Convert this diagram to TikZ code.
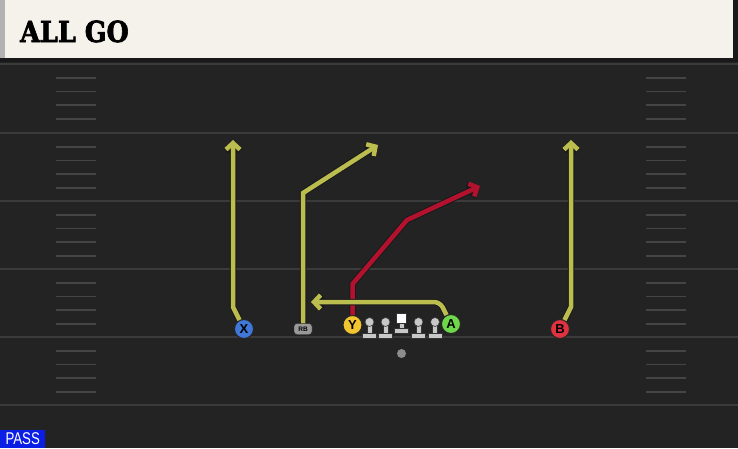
\documentclass[tikz,border=0pt]{standalone}
\usepackage{fontspec}
\setmainfont{Liberation Sans}
\newfontfamily\titelfont[FakeBold=2.5]{DejaVu Serif}
\usetikzlibrary{arrows.meta}
\definecolor{feld}{HTML}{232323}
\definecolor{linie}{HTML}{3B3B3B}
\definecolor{hashfarbe}{HTML}{454545}
\definecolor{kopf}{HTML}{F4F2EB}
\definecolor{gelb}{HTML}{BCBD4F}
\definecolor{rot}{HTML}{B3122F}
\definecolor{xblau}{HTML}{3F78D8}
\definecolor{agruen}{HTML}{6FD84A}
\definecolor{brot}{HTML}{E0323F}
\definecolor{ygelb}{HTML}{F2C530}
\definecolor{passblau}{HTML}{0B1EE6}
\definecolor{mann}{HTML}{C8C8C8}
\tikzset{
  spieler/.style={circle,draw=black!85,line width=1pt,minimum size=19pt,inner sep=0pt,
    font=\bfseries\fontsize{13}{13}\selectfont},
  route/.style={line width=4.5pt,line join=miter,-{Straight Barb[length=6.5pt,width=14pt]},
    preaction={draw=black!90,line width=6.5pt}},
  hash/.style={hashfarbe,line width=1.5pt},
  mannteil/.style={fill=mann,draw=black!80,line width=0.6pt},
}
\begin{document}
\begin{tikzpicture}[x=1pt,y=-1pt]
			\useasboundingbox (0,0) rectangle (738,448);

			% Feld
			\fill[feld] (0,0) rectangle (738,448);
			\foreach \y in {64,133,201,269,337,405}
				\draw[linie,line width=2pt] (0,\y) -- (738,\y);
			\foreach \b in {64,133,201,269,337}
				\foreach \d in {14,27.5,41,55} {
					\draw[hash] (56,\b+\d) -- (96,\b+\d);
					\draw[hash] (646,\b+\d) -- (686,\b+\d);
				}

			% Kopfzeile
			\fill[black!90] (0,0) rectangle (738,62);
			\fill[kopf] (0,0) rectangle (733,58);
			\fill[black!30] (0,0) rectangle (5,58);
			\node[anchor=base west,inner sep=0pt,font=\titelfont\bfseries\fontsize{29}{29}\selectfont] (titel) at (20,42) {\scalebox{0.88}[1]{ALL GO}};

			% Linie
			\foreach \x in {369.5,385.5,418.5,435} {
				\filldraw[mannteil] (\x-7,333) rectangle (\x+7,338.5);
				\filldraw[mannteil] (\x-2.7,325) rectangle (\x+2.7,333);
				\filldraw[mannteil] (\x,322) circle (4.5);
			}
			\filldraw[mannteil] (394.5,328) rectangle (408.5,333.5);
			\filldraw[mannteil] (398.8,322) rectangle (404.2,328);
			\filldraw[fill=white,draw=black!80,line width=0.6pt] (396.5,313.5) rectangle (406.5,323);

			% Ball
			\fill[black!45] (401.5,353.5) circle (4.5);

			% Spieler
			\node[spieler,fill=xblau] (X) at (244,329) {X};
			\node[draw=black!85,fill=black!40,rounded corners=3pt,minimum width=18pt,minimum height=11pt,
				inner sep=0pt,font=\bfseries\fontsize{6.5}{6.5}\selectfont] (RB) at (303,329) {RB};
			\node[spieler,fill=ygelb] (Y) at (352.5,325) {Y};
			\node[spieler,fill=agruen] (A) at (451,324) {A};
			\node[spieler,fill=brot] (B) at (560,329) {B};

			% Routen
			\coordinate (xknick) at (233,307);
			\coordinate (xziel) at (233,140);
			\coordinate (rbknick) at (303,193);
			\coordinate (rbziel) at (378,145);
			\coordinate (yknick1) at (352.5,284);
			\coordinate (yknick2) at (407,220);
			\coordinate (yziel) at (480,186);
			\coordinate (aknick) at (440,302);
			\coordinate (aziel) at (311,302);
			\coordinate (bknick) at (571,307);
			\coordinate (bziel) at (571,140);

			\draw[route,gelb] (X) -- (xknick) -- (xziel);
			\draw[route,gelb] (RB) -- (rbknick) -- (rbziel);
			\draw[route,rot] (Y) -- (yknick1) -- (yknick2) -- (yziel);
			\draw[route,gelb,rounded corners=6pt] (A) -- (aknick) -- (aziel);
			\draw[route,gelb] (B) -- (bknick) -- (bziel);

			% Spielart
			\node[fill=passblau,text=white,anchor=south west,inner sep=0pt,minimum width=45pt,minimum height=18pt,
				font=\fontsize{17}{17}\selectfont] (pass) at (0,448) {\scalebox{0.78}[1]{PASS}};

		\end{tikzpicture}
\end{document}
